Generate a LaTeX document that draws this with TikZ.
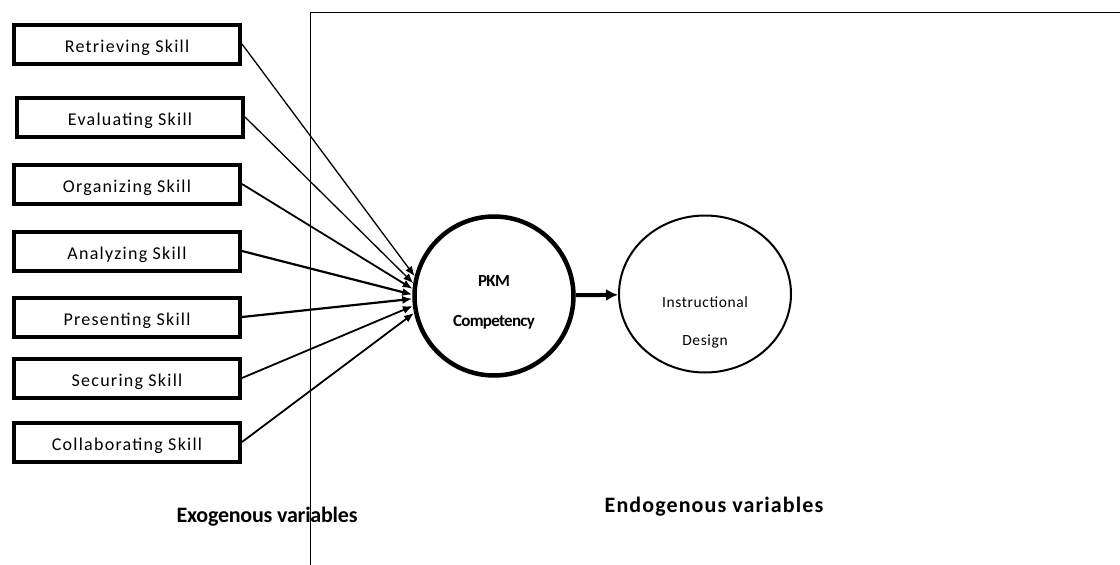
\documentclass[tikz,border=0pt]{standalone}
\usepackage{fontspec}
\setmainfont{Carlito}
\usepackage{tikz}
\usetikzlibrary{shapes.geometric}
\usetikzlibrary{arrows.meta}
\pgfdeclarelayer{edgelayer}
\pgfdeclarelayer{nodelayer}
\pgfsetlayers{edgelayer,nodelayer,main}
\tikzstyle{skill_box}=[rectangle,draw=black,fill=white,line width=4pt,minimum width=226pt,minimum height=39pt,inner sep=0pt,font=\fontsize{18}{20}\selectfont\addfontfeatures{LetterSpace=7},text height=17pt,text depth=0pt]
\tikzstyle{latent}=[circle,draw=black,fill=white,line width=4.5pt,minimum size=159pt,inner sep=0pt]
\tikzstyle{outcome}=[ellipse,draw=black,fill=white,line width=2pt,minimum width=172pt,minimum height=157pt,inner sep=0pt]
\tikzstyle{inner_text}=[inner sep=0pt]
\tikzstyle{side_label}=[inner sep=0pt]
\tikzstyle{simple}=[-,draw=black,line width=1pt]
\tikzstyle{path_arrow}=[-{Latex[length=10pt,width=8pt]},draw=black,line width=1.8pt]

\begin{document}
\begin{tikzpicture}[x=1pt,y=-1pt]
	\useasboundingbox (0, 0) rectangle (1120, 565);
	\begin{pgfonlayer}{nodelayer}
		\node [style={skill_box}] (0) at (127, 44) {Retrieving Skill};
		\node [style={skill_box}] (1) at (130, 117) {Evaluating Skill};
		\node [style={skill_box}] (2) at (127, 184) {Organizing Skill};
		\node [style={skill_box}] (3) at (127, 251) {Analyzing Skill};
		\node [style={skill_box}] (4) at (127, 317) {Presenting Skill};
		\node [style={skill_box}] (5) at (127, 378) {Securing Skill};
		\node [style={skill_box}] (6) at (127, 442) {Collaborating Skill};
		\node [style={latent}] (7) at (494, 296) {};
		\node [style={outcome}] (8) at (705, 294) {};
		\node [style={inner_text}, font=\fontsize{17}{19}\selectfont\bfseries\addfontfeatures{LetterSpace=-4}] (9) at (494, 281) {PKM};
		\node [style={inner_text}, font=\fontsize{17}{19}\selectfont\bfseries\addfontfeatures{LetterSpace=-4}] (10) at (494, 322) {Competency};
		\node [style={inner_text}, font=\fontsize{15.5}{17}\selectfont\addfontfeatures{LetterSpace=4}] (11) at (705, 302) {Instructional};
		\node [style={inner_text}, font=\fontsize{15.5}{17}\selectfont\addfontfeatures{LetterSpace=4}] (12) at (705, 341) {Design};
		\node [style={side_label}, font=\fontsize{22}{24}\selectfont\bfseries\addfontfeatures{LetterSpace=-1}] (13) at (267, 517) {Exogenous variables};
		\node [style={side_label}, font=\fontsize{22}{24}\selectfont\bfseries\addfontfeatures{LetterSpace=5}] (14) at (714, 507) {Endogenous variables};
		\coordinate (15) at (310, 565);
		\coordinate (16) at (310, 12);
		\coordinate (17) at (1120, 12);
	\end{pgfonlayer}
	\begin{pgfonlayer}{edgelayer}
		\draw [style=simple] (15) -- (16) -- (17);
		\draw [style=path_arrow, line width=1.3pt] (0.east) to (7.166);
		\draw [style=path_arrow, line width=1.3pt] (1.east) to (7.171);
		\draw [style=path_arrow] (2.east) to (7.175);
		\draw [style=path_arrow, line width=2.2pt] (3.east) to (7.179);
		\draw [style=path_arrow, line width=2.2pt] (4.east) to (7.182);
		\draw [style=path_arrow] (5.east) to (7.187);
		\draw [style=path_arrow] (6.east) to (7.192);
		\draw [style=path_arrow, line width=4pt, -{Latex[length=12pt,width=12pt]}] (7) to (8);
	\end{pgfonlayer}
\end{tikzpicture}
\end{document}
